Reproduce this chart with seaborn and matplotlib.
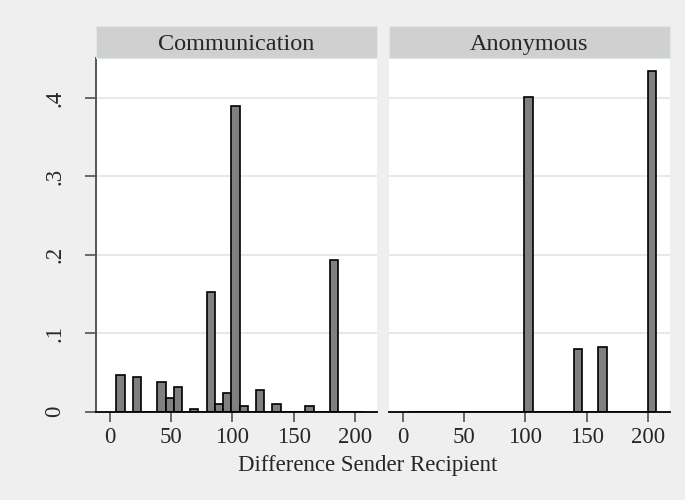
import numpy as np
import pandas as pd
import seaborn as sns
import matplotlib.pyplot as plt
from matplotlib.patches import Rectangle

comm_diff = [8, 22, 42, 49, 55, 69, 82, 89, 96, 102, 109, 123, 136, 163, 183]
comm_frac = [0.047, 0.044, 0.038, 0.017, 0.031, 0.0035, 0.152, 0.010, 0.023,
             0.390, 0.007, 0.027, 0.010, 0.007, 0.193]
anon_diff = [102, 143, 163, 203]
anon_frac = [0.401, 0.080, 0.082, 0.434]

panel_names = ["Communication", "Anonymous"]
x_ticks = [0, 50, 100, 150, 200]
y_ticks = [0, 0.1, 0.2, 0.3, 0.4]
y_labels = ["0", ".1", ".2", ".3", ".4"]

# common bins for both groups
bin_start = 5
bin_width = 6.72
n_bins = 30

df = pd.concat([
    pd.DataFrame({"diff": comm_diff, "frac": comm_frac, "group": panel_names[0]}),
    pd.DataFrame({"diff": anon_diff, "frac": anon_frac, "group": panel_names[1]}),
])

sns.set_style("white")
plt.rcParams['font.family'] = ['Liberation Serif', 'DejaVu Serif']

bg = "#efefef"
fig = plt.figure(figsize=(6.85, 5.0), dpi=100, facecolor=bg)

W, H = 685, 500
boxes = [(96, 377), (389, 670)]
top_px, bot_px = 58, 411.5
strip_top = 26

axes = []
for i, (name, (x0, x1)) in enumerate(zip(panel_names, boxes)):
    ax = fig.add_axes([x0 / W, 1 - bot_px / H, (x1 - x0) / W, (bot_px - top_px) / H])
    axes.append(ax)
    ax.set_facecolor("white")
    for y in y_ticks[1:]:
        ax.axhline(y, color="#e6e6e6", lw=1.3, zorder=0)
    sub = df[df["group"] == name]
    sns.histplot(data=sub, x="diff", weights="frac", binwidth=bin_width,
                 binrange=(bin_start, bin_start + bin_width * n_bins),
                 stat="count", color="#808080", edgecolor="black",
                 linewidth=1.2, alpha=1, ax=ax)
    ax.set_xlim(-11.6, 218.2)
    ax.set_ylim(0, 0.451)
    ax.set_xlabel("")
    ax.set_ylabel("")
    ax.set_xticks(x_ticks)
    ax.set_xticklabels([str(t) for t in x_ticks], fontsize=16.5)
    ax.tick_params(axis="x", direction="out", length=7, width=1.1,
                   color="#444444", pad=4, bottom=True)
    for s in ["top", "right"]:
        ax.spines[s].set_visible(False)
    ax.spines["bottom"].set_color("black")
    ax.spines["bottom"].set_linewidth(1.3)
    ax.spines["bottom"].set_zorder(3)
    if i == 0:
        ax.set_yticks(y_ticks)
        ax.set_yticklabels(y_labels, fontsize=16.5, rotation=90, va="center")
        ax.tick_params(axis="y", direction="out", length=8, width=1.1,
                       color="#444444", pad=14, left=True)
        ax.spines["left"].set_color("#555555")
        ax.spines["left"].set_linewidth(1.4)
    else:
        ax.set_yticks([])
        ax.spines["left"].set_visible(False)

    # strip header
    fig.patches.append(Rectangle((x0 / W, 1 - top_px / H), (x1 - x0) / W,
                                 (top_px - strip_top) / H, transform=fig.transFigure,
                                 facecolor="#d0d0d0", edgecolor="#dfe7ec", lw=0.8))
    fig.text((x0 + x1) / 2 / W, 1 - (top_px + strip_top) / 2 / H, name,
             ha="center", va="center_baseline", fontsize=17.5)

fig.text(368 / W, 1 - 466 / H, "Difference Sender Recipient",
         ha="center", va="center", fontsize=16.5)

fig.savefig("out.png", dpi=100, facecolor=bg)
